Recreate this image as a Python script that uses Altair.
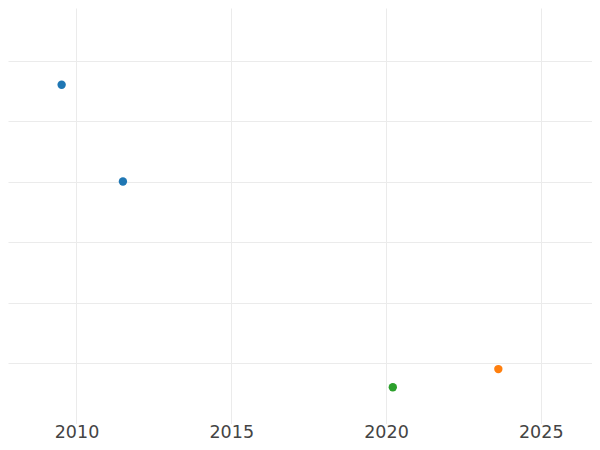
import altair as alt
import pandas as pd

series = ["A", "A", "B", "C"]
years = [2009.52, 2011.50, 2023.63, 2020.22]
values = [5.6, 4.0, 0.9, 0.6]
x_ticks = [2010, 2015, 2020, 2025]
y_ticks = [1, 2, 3, 4, 5, 6]

df = pd.DataFrame({"series": series, "year": years, "value": values})

chart = alt.Chart(df).mark_circle(size=70, opacity=1).encode(
    x=alt.X("year:Q",
            scale=alt.Scale(domain=[2007.787, 2026.656], nice=False, zero=False),
            axis=alt.Axis(values=x_ticks, format="d", title=None, domain=False, ticks=False,
                          labelFontSize=17.5, labelColor="#444444", labelPadding=0,
                          labelFont="DejaVu Sans", grid=True, gridColor="#ebebeb")),
    y=alt.Y("value:Q",
            scale=alt.Scale(domain=[0, 6.869], nice=False),
            axis=alt.Axis(values=y_ticks, labels=False, ticks=False, domain=False, title=None,
                          grid=True, gridColor="#ebebeb")),
    color=alt.Color("series:N",
                    scale=alt.Scale(domain=["A", "B", "C"], range=["#1f77b4", "#ff7f0e", "#2ca02c"]),
                    legend=None),
).properties(
    width=584, height=415.5,
    autosize=alt.AutoSizeParams(type="none"),
    padding={"left": 0, "top": 0, "right": 0, "bottom": 18.5},
).configure_view(stroke=None)

chart.save("out.html", embed_options={"renderer": "svg", "actions": False})
